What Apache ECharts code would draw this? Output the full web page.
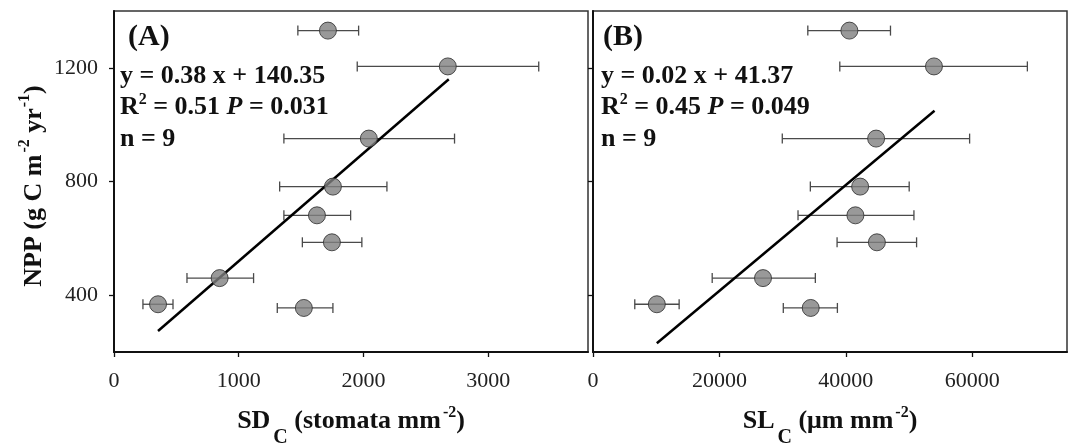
<!DOCTYPE html>
<html>
<head>
<meta charset="utf-8">
<script src="https://cdn.jsdelivr.net/npm/echarts@6/dist/echarts.min.js"></script>
<style>
  html, body { margin: 0; padding: 0; background: #fff; }
  #chart { width: 1074px; height: 446px; }
</style>
</head>
<body>
<div id="chart"></div>
<script>
// NPP values shared by both panels
const npp = [1331, 1205, 951, 782, 681, 586, 460, 368, 355];

// panel A: stomatal density
const sdMean = [1715, 2676, 2043, 1755, 1627, 1747, 847, 353, 1522];
const sdLow  = [1474, 1950, 1362, 1328, 1362, 1510, 585, 232, 1309];
const sdHigh = [1961, 3405, 2730, 2188, 1897, 1987, 1119, 473, 1755];
const sdFit  = [[353, 274], [2684, 1160]];

// panel B: stomatal length
const slMean = [40570, 53950, 44800, 42270, 41520, 44920, 26900, 10100, 34450];
const slLow  = [33990, 39050, 29950, 34390, 32440, 38620, 18860, 6610, 30110];
const slHigh = [47070, 68730, 59590, 50030, 50780, 51200, 35180, 13630, 38670];
const slFit  = [[10100, 231], [54040, 1049]];

const yTicks = [400, 800, 1200];
const sdTicks = [0, 1000, 2000, 3000];
const slTicks = [0, 20000, 40000, 60000];

const serif = '"Liberation Serif", "Times New Roman", serif';
const ink = '#111';

let myChart = echarts.init(document.getElementById('chart'));

// text measuring, so sub/superscripts can be placed piece by piece
// piece = [text, fontSize, dy, italic, gapBefore]
const ctx = document.createElement('canvas').getContext('2d');
function fontOf(size, italic) {
    return (italic ? 'italic ' : '') + 'bold ' + size + 'px ' + serif;
}
function mathText(pieces, x, y, rotation, center) {
    let cur = 0;
    const kids = [];
    pieces.forEach(p => {
        const f = fontOf(p[1], p[3]);
        cur += p[4] || 0;
        ctx.font = f;
        kids.push({
            type: 'text', x: cur, y: p[2],
            style: { text: p[0], font: f, fill: ink, align: 'left', verticalAlign: 'middle' }
        });
        cur += ctx.measureText(p[0]).width;
    });
    if (center) kids.forEach(k => { k.x -= cur / 2; });
    return { type: 'group', x: x, y: y, rotation: rotation || 0, children: kids };
}

function errBars(mean, low, high) {
    return mean.map((m, i) => [m, npp[i], low[i], high[i]]);
}

function renderErr(params, api) {
    let y = api.value(1);
    let a = api.coord([api.value(2), y]);
    let b = api.coord([api.value(3), y]);
    let cap = 5;
    let st = { stroke: '#4a4a4a', lineWidth: 1.3 };
    return {
        type: 'group',
        children: [
            { type: 'line', shape: { x1: a[0], y1: a[1], x2: b[0], y2: b[1] }, style: st },
            { type: 'line', shape: { x1: a[0], y1: a[1] - cap, x2: a[0], y2: a[1] + cap }, style: st },
            { type: 'line', shape: { x1: b[0], y1: b[1] - cap, x2: b[0], y2: b[1] + cap }, style: st }
        ]
    };
}

function xAxisFor(idx, max, ticks) {
    return {
        type: 'value', gridIndex: idx, min: 0, max: max,
        axisLine: { show: true, onZero: false, lineStyle: { color: ink, width: 2 } },
        axisTick: { show: true, inside: false, length: 5, customValues: ticks, lineStyle: { color: ink, width: 1.3 } },
        axisLabel: { customValues: ticks, formatter: v => String(v), fontFamily: serif, fontSize: 22, color: '#222', margin: 18 },
        splitLine: { show: false }
    };
}

function yAxisFor(idx, labels) {
    return {
        type: 'value', gridIndex: idx, min: 200, max: 1400,
        axisLine: { show: true, lineStyle: { color: ink, width: 2 } },
        axisTick: { show: true, inside: false, length: 5, customValues: yTicks, lineStyle: { color: ink, width: 1.3 } },
        axisLabel: { show: labels, customValues: yTicks, formatter: v => String(v), fontFamily: serif, fontSize: 22, color: '#222', margin: 16 },
        splitLine: { show: false }
    };
}

function annot(tagX, textX, tag, eq, r2, p) {
    return [
        mathText([[tag, 30, 0]], tagX, 37),
        mathText([[eq, 26, 0]], textX, 76),
        mathText([['R', 26, 0], ['2', 16, -7], [' = ' + r2 + ' ', 26, 0], ['P', 26, 0, true], [' = ' + p, 26, 0]], textX, 107),
        mathText([['n = 9', 26, 0]], textX, 139)
    ];
}

const scatterStyle = {
    symbol: 'circle', symbolSize: 17,
    itemStyle: { color: '#7f7f7f', borderColor: '#2a2a2a', borderWidth: 1 },
    z: 4
};

const option = {
    animation: false,
    grid: [
        { left: 114, top: 11, width: 474, height: 341, show: true, borderColor: '#333', borderWidth: 1.5 },
        { left: 593, top: 11, width: 474, height: 341, show: true, borderColor: '#333', borderWidth: 1.5 }
    ],
    xAxis: [xAxisFor(0, 3800, sdTicks), xAxisFor(1, 75000, slTicks)],
    yAxis: [yAxisFor(0, true), yAxisFor(1, false)],
    series: [
        { type: 'custom', xAxisIndex: 0, yAxisIndex: 0, renderItem: renderErr, data: errBars(sdMean, sdLow, sdHigh), z: 2 },
        { type: 'line', xAxisIndex: 0, yAxisIndex: 0, data: sdFit, showSymbol: false, lineStyle: { color: '#000', width: 2.5 }, z: 3 },
        Object.assign({ type: 'scatter', xAxisIndex: 0, yAxisIndex: 0, data: sdMean.map((v, i) => [v, npp[i]]) }, scatterStyle),
        { type: 'custom', xAxisIndex: 1, yAxisIndex: 1, renderItem: renderErr, data: errBars(slMean, slLow, slHigh), z: 2 },
        { type: 'line', xAxisIndex: 1, yAxisIndex: 1, data: slFit, showSymbol: false, lineStyle: { color: '#000', width: 2.5 }, z: 3 },
        Object.assign({ type: 'scatter', xAxisIndex: 1, yAxisIndex: 1, data: slMean.map((v, i) => [v, npp[i]]) }, scatterStyle)
    ],
    graphic: annot(128, 120, '(A)', 'y = 0.38 x + 140.35', '0.51', '0.031')
        .concat(annot(603, 601, '(B)', 'y = 0.02 x + 41.37', '0.45', '0.049'))
        .concat([
            // axis titles
            mathText([['SD', 26, 0], ['C', 20, 17, false, 3], [' (stomata mm', 26, 0], ['-2', 16, -8, false, 2], [')', 26, 0]], 351, 421, 0, true),
            mathText([['SL', 26, 0], ['C', 20, 17, false, 3], [' (\u03bcm mm', 26, 0], ['-2', 16, -8, false, 2], [')', 26, 0]], 830, 421, 0, true),
            mathText([['NPP (g C m', 26, 0], ['-2', 16, -9, false, 2], [' yr', 26, 0], ['-1', 16, -9, false, 1], [')', 26, 0]], 34, 186, Math.PI / 2, true)
        ])
};
option && myChart.setOption(option);
</script>
</body>
</html>
